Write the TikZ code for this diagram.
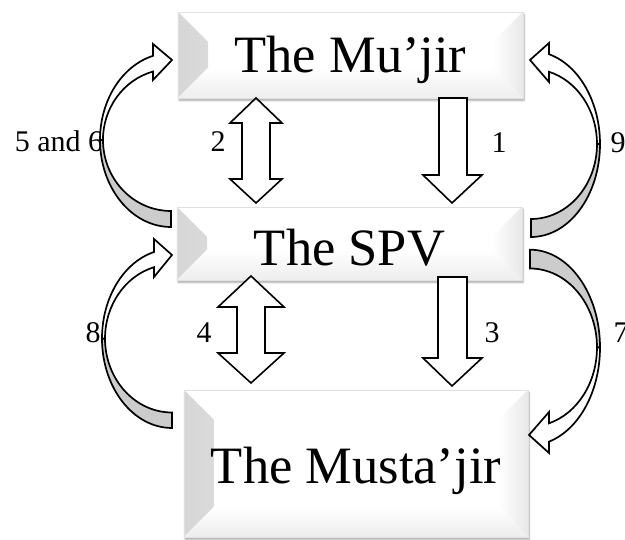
\documentclass[tikz,border=0pt]{standalone}
\usepackage{fontspec}
\setmainfont{Liberation Serif}
\usetikzlibrary{shadows.blur}

\newcommand{\boxfont}{\fontsize{52.5}{60}\selectfont}
\newcommand{\numfont}{\fontsize{30}{36}\selectfont}

\begin{document}
\begin{tikzpicture}[
    x=1pt, y=1pt,
    thick
]
\tikzset{
    bevelbox/.style = {draw=black!12, fill=white, inner sep=0pt, font=\boxfont,
        text height=35pt, text depth=0pt,
        blur shadow={shadow xshift=1pt, shadow yshift=-2.5pt, shadow blur steps=6, shadow opacity=35},
        path picture={
            \shade[left color=black!16, right color=white]
                (path picture bounding box.north west) -- ([xshift=30pt,yshift=-30pt]path picture bounding box.north west)
                -- ([xshift=30pt,yshift=30pt]path picture bounding box.south west) -- (path picture bounding box.south west) -- cycle;
            \shade[left color=white, right color=black!9]
                (path picture bounding box.north east) -- ([xshift=-30pt,yshift=-30pt]path picture bounding box.north east)
                -- ([xshift=-30pt,yshift=30pt]path picture bounding box.south east) -- (path picture bounding box.south east) -- cycle;
            \shade[top color=white, bottom color=black!7]
                (path picture bounding box.south west) -- ([xshift=30pt,yshift=30pt]path picture bounding box.south west)
                -- ([xshift=-30pt,yshift=30pt]path picture bounding box.south east) -- (path picture bounding box.south east) -- cycle;
        }},
    numlabel/.style = {font=\numfont, inner sep=0pt, anchor=base},
    blockarrow/.style = {draw=black, fill=white, line width=1.6pt, line join=miter},
    backface/.style = {draw=black, fill=black!20, line width=1.7pt},
    frontface/.style = {draw=black, fill=white, line width=1.7pt}
}
\useasboundingbox (0,0) rectangle (625,540);

% the three parties
\node[bevelbox, minimum width=345pt, minimum height=86pt] at (350.5,485) (mujir) {The Mu’jir};
\node[bevelbox, minimum width=345pt, minimum height=73pt, text height=45pt] at (349.5,296.5) (spv) {The SPV};
\node[bevelbox, minimum width=344pt, minimum height=147pt, text height=41pt] at (356,76.5) (mustajir) {The Musta’jir};

% step numbers
\node[numlabel] (l56) at (59,388) {5 and 6};
\node[numlabel] (l2) at (218,388) {2};
\node[numlabel] (l1) at (499,387) {1};
\node[numlabel] (l9) at (618,387) {9};
\node[numlabel] (l8) at (93,197) {8};
\node[numlabel] (l4) at (204,197) {4};
\node[numlabel] (l3) at (492,197) {3};
\node[numlabel] (l7) at (621,197) {7};

% straight block arrows
\draw[blockarrow] (439,442) -- (439,365) -- (423,365) -- (452,337) -- (482,365) -- (467,365) -- (467,442) -- cycle;
\draw[blockarrow] (438,263) -- (438,182) -- (423,182) -- (452,154) -- (482,182) -- (467,182) -- (467,263) -- cycle;
\draw[blockarrow] (256,442) -- (282,417) -- (270,417) -- (270,361) -- (282,361) -- (256,337)
    -- (230,361) -- (242,361) -- (242,417) -- (230,417) -- cycle;
\draw[blockarrow] (251,264) -- (284,233) -- (265,233) -- (265,187) -- (284,187) -- (251,157)
    -- (218,187) -- (237,187) -- (237,233) -- (218,233) -- cycle;

% curved arrows, 5 and 6
\coordinate (ca) at (171,400);
\draw[backface] ([yshift=-87pt]ca) arc[start angle=270, end angle=180, x radius=71, y radius=87]
    -- ([xshift=-68pt]ca) arc[start angle=180, end angle=270, x radius=68, y radius=71] -- cycle;
\draw[frontface] ([xshift=-71pt]ca) arc[start angle=180, end angle=104.7, x radius=71, y radius=87]
    -- (153,496) -- (172,480) -- (153,460) -- (153,468.5)
    arc[start angle=105.3, end angle=180, x radius=68, y radius=71] -- cycle;

% 9
\coordinate (cb) at (531,396);
\draw[backface] ([yshift=-93pt]cb) arc[start angle=270, end angle=360, x radius=69, y radius=93]
    -- ([xshift=66pt]cb) arc[start angle=0, end angle=-90, x radius=66, y radius=75] -- cycle;
\draw[frontface] ([xshift=69pt]cb) arc[start angle=0, end angle=74.9, x radius=69, y radius=93]
    -- (549,497) -- (530,480) -- (549,458) -- (549,468.2)
    arc[start angle=74.17, end angle=0, x radius=66, y radius=75] -- cycle;

% 8
\coordinate (cc) at (172,201.5);
\draw[backface] ([yshift=-89.5pt]cc) arc[start angle=270, end angle=180, x radius=70, y radius=89.5]
    -- ([xshift=-67pt]cc) arc[start angle=180, end angle=270, x radius=67, y radius=74] -- cycle;
\draw[frontface] ([xshift=-70pt]cc) arc[start angle=180, end angle=104.9, x radius=70, y radius=89.5]
    -- (154,301) -- (172,285) -- (154,263) -- (154,272.8)
    arc[start angle=105.6, end angle=180, x radius=67, y radius=74] -- cycle;

% 7
\coordinate (cd) at (530,192.5);
\draw[backface] ([yshift=97.8pt]cd) arc[start angle=90, end angle=0, x radius=70, y radius=97.8]
    -- ([xshift=67pt]cd) arc[start angle=0, end angle=90, x radius=67, y radius=79] -- cycle;
\draw[frontface] ([xshift=70pt]cd) arc[start angle=0, end angle=-74.3, x radius=70, y radius=97.8]
    -- (549,87) -- (529,105) -- (549,128) -- (549,116.7)
    arc[start angle=-73.5, end angle=0, x radius=67, y radius=79] -- cycle;
\end{tikzpicture}
\end{document}
